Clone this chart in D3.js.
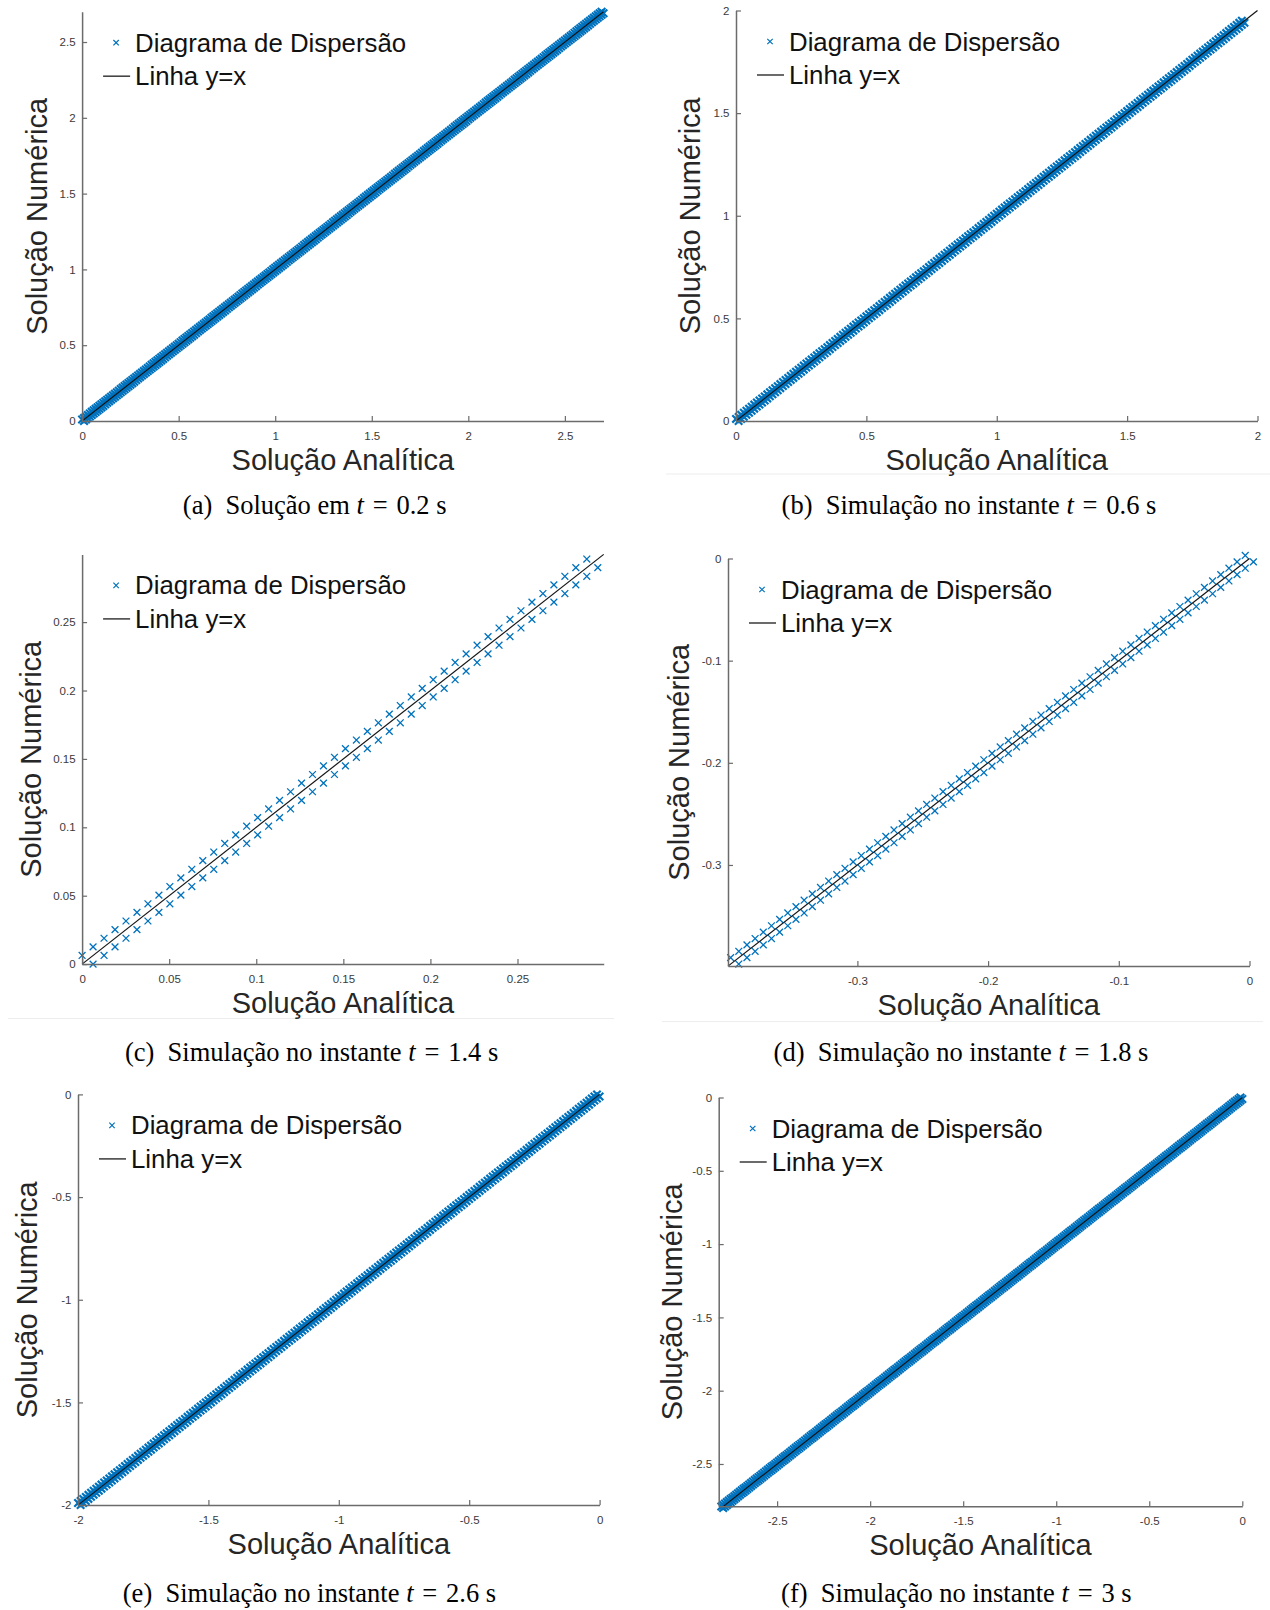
<!DOCTYPE html>
<html>
<head>
<meta charset="utf-8">
<script src="https://cdn.jsdelivr.net/npm/d3@7"></script>
<style>
  body { margin: 0; background: #fff; }
  svg { display: block; }
</style>
</head>
<body>
<svg id="fig" width="1270" height="1610"></svg>
<script>
// Analytic solution sampled on the mesh, one array per time instant.
// Each scatter point pairs the analytic value at a node with the numerical
// value, which equals the analytic value of the neighbouring node.
const gridA = [
  0,.01,.02,.03,.04,.05,.06,.07,.08,.09,
  .1,.11,.12,.13,.14,.15,.16,.17,.18,.19,
  .2,.21,.22,.23,.24,.25,.26,.27,.28,.29,
  .3,.31,.32,.33,.34,.35,.36,.37,.38,.39,
  .4,.41,.42,.43,.44,.45,.46,.47,.48,.49,
  .5,.51,.52,.53,.54,.55,.56,.57,.58,.59,
  .6,.61,.62,.63,.64,.65,.66,.67,.68,.69,
  .7,.71,.72,.73,.74,.75,.76,.77,.78,.79,
  .8,.81,.82,.83,.84,.85,.86,.87,.88,.89,
  .9,.91,.92,.93,.94,.95,.96,.97,.98,.99,
  1,1.01,1.02,1.03,1.04,1.05,1.06,1.07,1.08,1.09,
  1.1,1.11,1.12,1.13,1.14,1.15,1.16,1.17,1.18,1.19,
  1.2,1.21,1.22,1.23,1.24,1.25,1.26,1.27,1.28,1.29,
  1.3,1.31,1.32,1.33,1.34,1.35,1.36,1.37,1.38,1.39,
  1.4,1.41,1.42,1.43,1.44,1.45,1.46,1.47,1.48,1.49,
  1.5,1.51,1.52,1.53,1.54,1.55,1.56,1.57,1.58,1.59,
  1.6,1.61,1.62,1.63,1.64,1.65,1.66,1.67,1.68,1.69,
  1.7,1.71,1.72,1.73,1.74,1.75,1.76,1.77,1.78,1.79,
  1.8,1.81,1.82,1.83,1.84,1.85,1.86,1.87,1.88,1.89,
  1.9,1.91,1.92,1.93,1.94,1.95,1.96,1.97,1.98,1.99,
  2,2.01,2.02,2.03,2.04,2.05,2.06,2.07,2.08,2.09,
  2.1,2.11,2.12,2.13,2.14,2.15,2.16,2.17,2.18,2.19,
  2.2,2.21,2.22,2.23,2.24,2.25,2.26,2.27,2.28,2.29,
  2.3,2.31,2.32,2.33,2.34,2.35,2.36,2.37,2.38,2.39,
  2.4,2.41,2.42,2.43,2.44,2.45,2.46,2.47,2.48,2.49,
  2.5,2.51,2.52,2.53,2.54,2.55,2.56,2.57,2.58,2.59,
  2.6,2.61,2.62,2.63,2.64,2.65,2.66,2.67,2.68,2.69,
  2.7
];
const gridB = [
  0,.01,.02,.03,.04,.05,.06,.07,.08,.09,
  .1,.11,.12,.13,.14,.15,.16,.17,.18,.19,
  .2,.21,.22,.23,.24,.25,.26,.27,.28,.29,
  .3,.31,.32,.33,.34,.35,.36,.37,.38,.39,
  .4,.41,.42,.43,.44,.45,.46,.47,.48,.49,
  .5,.51,.52,.53,.54,.55,.56,.57,.58,.59,
  .6,.61,.62,.63,.64,.65,.66,.67,.68,.69,
  .7,.71,.72,.73,.74,.75,.76,.77,.78,.79,
  .8,.81,.82,.83,.84,.85,.86,.87,.88,.89,
  .9,.91,.92,.93,.94,.95,.96,.97,.98,.99,
  1,1.01,1.02,1.03,1.04,1.05,1.06,1.07,1.08,1.09,
  1.1,1.11,1.12,1.13,1.14,1.15,1.16,1.17,1.18,1.19,
  1.2,1.21,1.22,1.23,1.24,1.25,1.26,1.27,1.28,1.29,
  1.3,1.31,1.32,1.33,1.34,1.35,1.36,1.37,1.38,1.39,
  1.4,1.41,1.42,1.43,1.44,1.45,1.46,1.47,1.48,1.49,
  1.5,1.51,1.52,1.53,1.54,1.55,1.56,1.57,1.58,1.59,
  1.6,1.61,1.62,1.63,1.64,1.65,1.66,1.67,1.68,1.69,
  1.7,1.71,1.72,1.73,1.74,1.75,1.76,1.77,1.78,1.79,
  1.8,1.81,1.82,1.83,1.84,1.85,1.86,1.87,1.88,1.89,
  1.9,1.91,1.92,1.93,1.94,1.95
];
const gridC = [
  0,.0063,.0126,.0189,.0252,.0315,.0378,.0441,.0504,.0567,
  .0630,.0693,.0756,.0819,.0882,.0945,.1008,.1071,.1134,.1197,
  .1260,.1323,.1386,.1449,.1512,.1575,.1638,.1701,.1764,.1827,
  .1890,.1953,.2016,.2079,.2142,.2205,.2268,.2331,.2394,.2457,
  .2520,.2583,.2646,.2709,.2772,.2835,.2898,.2961
];
const gridD = [
  -.397,-.39075,-.3845,-.37825,-.372,-.36575,-.3595,-.35325,-.347,-.34075,
  -.3345,-.32825,-.322,-.31575,-.3095,-.30325,-.297,-.29075,-.2845,-.27825,
  -.272,-.26575,-.2595,-.25325,-.247,-.24075,-.2345,-.22825,-.222,-.21575,
  -.2095,-.20325,-.197,-.19075,-.1845,-.17825,-.172,-.16575,-.1595,-.15325,
  -.147,-.14075,-.1345,-.12825,-.122,-.11575,-.1095,-.10325,-.097,-.09075,
  -.0845,-.07825,-.072,-.06575,-.0595,-.05325,-.047,-.04075,-.0345,-.02825,
  -.022,-.01575,-.0095,-.00325,.003
];
const gridE = [
  -2,-1.99,-1.98,-1.97,-1.96,-1.95,-1.94,-1.93,-1.92,-1.91,
  -1.9,-1.89,-1.88,-1.87,-1.86,-1.85,-1.84,-1.83,-1.82,-1.81,
  -1.8,-1.79,-1.78,-1.77,-1.76,-1.75,-1.74,-1.73,-1.72,-1.71,
  -1.7,-1.69,-1.68,-1.67,-1.66,-1.65,-1.64,-1.63,-1.62,-1.61,
  -1.6,-1.59,-1.58,-1.57,-1.56,-1.55,-1.54,-1.53,-1.52,-1.51,
  -1.5,-1.49,-1.48,-1.47,-1.46,-1.45,-1.44,-1.43,-1.42,-1.41,
  -1.4,-1.39,-1.38,-1.37,-1.36,-1.35,-1.34,-1.33,-1.32,-1.31,
  -1.3,-1.29,-1.28,-1.27,-1.26,-1.25,-1.24,-1.23,-1.22,-1.21,
  -1.2,-1.19,-1.18,-1.17,-1.16,-1.15,-1.14,-1.13,-1.12,-1.11,
  -1.1,-1.09,-1.08,-1.07,-1.06,-1.05,-1.04,-1.03,-1.02,-1.01,
  -1,-.99,-.98,-.97,-.96,-.95,-.94,-.93,-.92,-.91,
  -.9,-.89,-.88,-.87,-.86,-.85,-.84,-.83,-.82,-.81,
  -.8,-.79,-.78,-.77,-.76,-.75,-.74,-.73,-.72,-.71,
  -.7,-.69,-.68,-.67,-.66,-.65,-.64,-.63,-.62,-.61,
  -.6,-.59,-.58,-.57,-.56,-.55,-.54,-.53,-.52,-.51,
  -.5,-.49,-.48,-.47,-.46,-.45,-.44,-.43,-.42,-.41,
  -.4,-.39,-.38,-.37,-.36,-.35,-.34,-.33,-.32,-.31,
  -.3,-.29,-.28,-.27,-.26,-.25,-.24,-.23,-.22,-.21,
  -.2,-.19,-.18,-.17,-.16,-.15,-.14,-.13,-.12,-.11,
  -.1,-.09,-.08,-.07,-.06,-.05,-.04,-.03,-.02,-.01,
  0
];
const gridF = [
  -2.8,-2.79,-2.78,-2.77,-2.76,-2.75,-2.74,-2.73,-2.72,-2.71,
  -2.7,-2.69,-2.68,-2.67,-2.66,-2.65,-2.64,-2.63,-2.62,-2.61,
  -2.6,-2.59,-2.58,-2.57,-2.56,-2.55,-2.54,-2.53,-2.52,-2.51,
  -2.5,-2.49,-2.48,-2.47,-2.46,-2.45,-2.44,-2.43,-2.42,-2.41,
  -2.4,-2.39,-2.38,-2.37,-2.36,-2.35,-2.34,-2.33,-2.32,-2.31,
  -2.3,-2.29,-2.28,-2.27,-2.26,-2.25,-2.24,-2.23,-2.22,-2.21,
  -2.2,-2.19,-2.18,-2.17,-2.16,-2.15,-2.14,-2.13,-2.12,-2.11,
  -2.1,-2.09,-2.08,-2.07,-2.06,-2.05,-2.04,-2.03,-2.02,-2.01,
  -2,-1.99,-1.98,-1.97,-1.96,-1.95,-1.94,-1.93,-1.92,-1.91,
  -1.9,-1.89,-1.88,-1.87,-1.86,-1.85,-1.84,-1.83,-1.82,-1.81,
  -1.8,-1.79,-1.78,-1.77,-1.76,-1.75,-1.74,-1.73,-1.72,-1.71,
  -1.7,-1.69,-1.68,-1.67,-1.66,-1.65,-1.64,-1.63,-1.62,-1.61,
  -1.6,-1.59,-1.58,-1.57,-1.56,-1.55,-1.54,-1.53,-1.52,-1.51,
  -1.5,-1.49,-1.48,-1.47,-1.46,-1.45,-1.44,-1.43,-1.42,-1.41,
  -1.4,-1.39,-1.38,-1.37,-1.36,-1.35,-1.34,-1.33,-1.32,-1.31,
  -1.3,-1.29,-1.28,-1.27,-1.26,-1.25,-1.24,-1.23,-1.22,-1.21,
  -1.2,-1.19,-1.18,-1.17,-1.16,-1.15,-1.14,-1.13,-1.12,-1.11,
  -1.1,-1.09,-1.08,-1.07,-1.06,-1.05,-1.04,-1.03,-1.02,-1.01,
  -1,-.99,-.98,-.97,-.96,-.95,-.94,-.93,-.92,-.91,
  -.9,-.89,-.88,-.87,-.86,-.85,-.84,-.83,-.82,-.81,
  -.8,-.79,-.78,-.77,-.76,-.75,-.74,-.73,-.72,-.71,
  -.7,-.69,-.68,-.67,-.66,-.65,-.64,-.63,-.62,-.61,
  -.6,-.59,-.58,-.57,-.56,-.55,-.54,-.53,-.52,-.51,
  -.5,-.49,-.48,-.47,-.46,-.45,-.44,-.43,-.42,-.41,
  -.4,-.39,-.38,-.37,-.36,-.35,-.34,-.33,-.32,-.31,
  -.3,-.29,-.28,-.27,-.26,-.25,-.24,-.23,-.22,-.21,
  -.2,-.19,-.18,-.17,-.16,-.15,-.14,-.13,-.12,-.11,
  -.1,-.09,-.08,-.07,-.06,-.05,-.04,-.03,-.02,-.01,
  0
];

// Axis limits (x = analytic, y = numerical)
const limitsX = [[0, 2.7], [0, 2], [0, 0.2995], [-0.399, 0], [-2, 0], [-2.814, 0]];
const limitsY = [[0, 2.7], [0, 2], [0, 0.2995], [-0.399, 0], [-2, 0], [-2.788, 0]];

// Tick values
const ticksA = [0, 0.5, 1, 1.5, 2, 2.5];
const ticksB = [0, 0.5, 1, 1.5, 2];
const ticksC = [0, 0.05, 0.1, 0.15, 0.2, 0.25];
const ticksD = [-0.3, -0.2, -0.1, 0];
const ticksE = [-2, -1.5, -1, -0.5, 0];
const ticksF = [-2.5, -2, -1.5, -1, -0.5, 0];

// Text
const captionTags = ["(a)", "(b)", "(c)", "(d)", "(e)", "(f)"];
const captionTexts = ["Solução em", "Simulação no instante", "Simulação no instante",
                      "Simulação no instante", "Simulação no instante", "Simulação no instante"];
const captionTimes = ["0.2", "0.6", "1.4", "1.8", "2.6", "3"];
const legendLabels = ["Diagrama de Dispersão", "Linha y=x"];
const xAxisTitle = "Solução Analítica";
const yAxisTitle = "Solução Numérica";

const grids = [gridA, gridB, gridC, gridD, gridE, gridF];
const ticks = [ticksA, ticksB, ticksC, ticksD, ticksE, ticksF];

// Page layout: plot boxes, y-title centre, caption anchor, marker stroke
const layout = [
  { l: 82.1,  t: 11.7,   r: 603.5,  b: 421.0,  yt: 36.6,  cx: 314.7, cy: 514,  ms: 3.8, mw: 2.1 },
  { l: 736.0, t: 10.5,   r: 1257.5, b: 421.0,  yt: 690.0, cx: 969.0, cy: 514,  ms: 3.7, mw: 2.2 },
  { l: 82.1,  t: 554.4,  r: 603.7,  b: 964.1,  yt: 30.8,  cx: 311.6, cy: 1061, ms: 3.4, mw: 1.3 },
  { l: 728.0, t: 558.5,  r: 1249.5, b: 966.1,  yt: 678.6, cx: 961.0, cy: 1061, ms: 3.4, mw: 1.3 },
  { l: 78.0,  t: 1094.4, r: 599.6,  b: 1505.1, yt: 26.7,  cx: 309.5, cy: 1602, ms: 3.7, mw: 2.2 },
  { l: 718.7, t: 1097.5, r: 1242.3, b: 1506.2, yt: 671.5, cx: 956.4, cy: 1602, ms: 3.8, mw: 2.1 }
];

const BLUE = "#0072BD";
const AXIS = "#6b6b6b";
const SANS = "'Liberation Sans', Arial, Helvetica, sans-serif";
const SERIF = "'Liberation Serif', 'Times New Roman', serif";

const svg = d3.select("#fig");

// faint frame rules between sub-figures
const rules = [[666, 474, 1270, 474], [8, 1018.5, 614, 1018.5], [662, 1021.6, 1263, 1021.6]];
svg.append("g").selectAll("line").data(rules).join("line")
  .attr("x1", d => d[0]).attr("y1", d => d[1]).attr("x2", d => d[2]).attr("y2", d => d[3])
  .attr("stroke", "#ededed").attr("stroke-width", 1);

const crossPath = s => `M${-s},${-s}L${s},${s}M${-s},${s}L${s},${-s}`;
const fmt = v => String(+v.toFixed(4));

layout.forEach((box, i) => {
  const x = d3.scaleLinear().domain(limitsX[i]).range([box.l, box.r]);
  const y = d3.scaleLinear().domain(limitsY[i]).range([box.b, box.t]);
  const g = svg.append("g");

  // scatter points: (analytic, numerical) pairs from neighbouring nodes
  const grid = grids[i];
  const pts = [];
  for (let k = 0; k + 1 < grid.length; k++) {
    pts.push([grid[k], grid[k + 1]]);
    pts.push([grid[k + 1], grid[k]]);
  }
  g.append("g").selectAll("path").data(pts).join("path")
    .attr("transform", d => `translate(${x(d[0])},${y(d[1])})`)
    .attr("d", crossPath(box.ms))
    .attr("fill", "none").attr("stroke", BLUE).attr("stroke-width", box.mw);

  // y = x reference line
  const lo = Math.max(limitsX[i][0], limitsY[i][0]);
  const hi = Math.min(limitsX[i][1], limitsY[i][1]);
  g.append("line")
    .attr("x1", x(lo)).attr("y1", y(lo)).attr("x2", x(hi)).attr("y2", y(hi))
    .attr("stroke", "#141414").attr("stroke-width", 1.2);

  // axes with inward ticks
  const ax = g.append("g").attr("transform", `translate(0,${box.b})`)
    .call(d3.axisBottom(x).tickValues(ticks[i]).tickFormat(fmt)
      .tickSizeInner(-5).tickSizeOuter(0).tickPadding(11));
  const ay = g.append("g").attr("transform", `translate(${box.l},0)`)
    .call(d3.axisLeft(y).tickValues(ticks[i]).tickFormat(fmt)
      .tickSizeInner(-5).tickSizeOuter(0).tickPadding(6.5));
  [ax, ay].forEach(a => {
    a.select(".domain").attr("stroke", AXIS).attr("stroke-width", 1.5);
    a.selectAll(".tick line").attr("stroke", AXIS).attr("stroke-width", 1.2);
    a.selectAll(".tick text").attr("fill", "#3a3a3a")
      .style("font-family", SANS).style("font-size", "11.5px");
  });

  // axis titles
  g.append("text")
    .attr("x", (box.l + box.r) / 2).attr("y", box.b + 49)
    .attr("text-anchor", "middle")
    .style("font-family", SANS).style("font-size", "29px").attr("fill", "#262626")
    .text(xAxisTitle);
  g.append("text")
    .attr("transform", `translate(${box.yt + 10},${(box.t + box.b) / 2}) rotate(-90)`)
    .attr("text-anchor", "middle")
    .style("font-family", SANS).style("font-size", "29px").attr("fill", "#262626")
    .text(yAxisTitle);

  // legend
  const lg = g.append("g").attr("transform", `translate(${box.l},${box.t})`);
  lg.append("path").attr("transform", "translate(34,31)")
    .attr("d", crossPath(2.7)).attr("fill", "none").attr("stroke", BLUE).attr("stroke-width", 1.2);
  lg.append("line").attr("x1", 21).attr("x2", 48).attr("y1", 64.5).attr("y2", 64.5)
    .attr("stroke", "#3a3a3a").attr("stroke-width", 1.5);
  lg.selectAll("text").data(legendLabels).join("text")
    .attr("x", 53).attr("y", (d, j) => 40 + j * 33.5)
    .style("font-family", SANS).style("font-size", "25.8px").attr("fill", "#111")
    .text(d => d);

  // caption
  const cap = svg.append("text")
    .attr("x", box.cx).attr("y", box.cy).attr("text-anchor", "middle")
    .style("font-family", SERIF).style("font-size", "26.5px").attr("fill", "#000");
  cap.append("tspan").text(captionTags[i] + "\u2002" + captionTexts[i] + " ");
  cap.append("tspan").style("font-style", "italic").text("t");
  cap.append("tspan").text("\u2004=\u2004" + captionTimes[i] + " s");
});
</script>
</body>
</html>
